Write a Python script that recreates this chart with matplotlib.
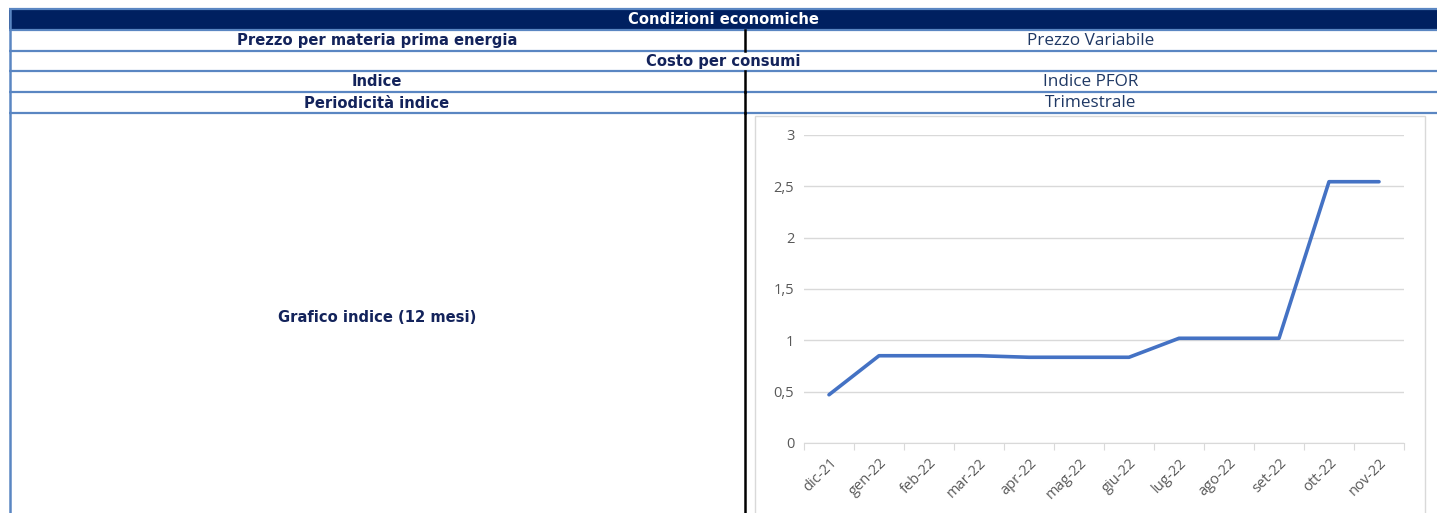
import matplotlib
matplotlib.use("Agg")
import matplotlib.pyplot as plt
from matplotlib.patches import Rectangle

# data
months = ["dic-21", "gen-22", "feb-22", "mar-22", "apr-22", "mag-22",
          "giu-22", "lug-22", "ago-22", "set-22", "ott-22", "nov-22"]
pfor = [0.47, 0.85, 0.85, 0.85, 0.835, 0.835,
        0.835, 1.02, 1.02, 1.02, 2.545, 2.545]
yticks = [0, 0.5, 1, 1.5, 2, 2.5, 3]
ytick_labels = ["0", "0,5", "1", "1,5", "2", "2,5", "3"]

title = "Condizioni economiche"
rows_left = ["Prezzo per materia prima energia", "Costo per consumi", "Indice",
             "Periodicità indice", "Grafico indice (12 mesi)"]
rows_right = ["Prezzo Variabile", None, "Indice PFOR", "Trimestrale", None]

W, H = 1437, 513
NAVY = "#002060"
TXT = "#13235b"
BLUE_BORDER = "#5a86c2"
BOLD_FONT = "DejaVu Sans"
FONT = "Open Sans"

fig = plt.figure(figsize=(W / 100, H / 100), dpi=100)
bg = fig.add_axes([0, 0, 1, 1])
bg.set_xlim(0, W)
bg.set_ylim(H, 0)
bg.axis("off")

x0, xmid, x1 = 9, 745, 1437
row_edges = [9, 30, 51, 71, 92, 113, 520]

# header row
bg.add_patch(Rectangle((x0, row_edges[0]), x1 - x0, row_edges[1] - row_edges[0],
                       facecolor=NAVY, edgecolor="none"))
bg.text((x0 + x1) / 2, (row_edges[0] + row_edges[1]) / 2 + 0.5, title,
        color="white", fontsize=10.6, fontweight="bold", family=BOLD_FONT,
        ha="center", va="center")

# borders
for y in row_edges[:-1]:
    bg.plot([x0, x1], [y, y], color=BLUE_BORDER, lw=1.6, solid_capstyle="butt")
bg.plot([x0 + 1, x0 + 1], [row_edges[0], H], color=BLUE_BORDER, lw=1.8)

for i, (left, right) in enumerate(zip(rows_left, rows_right)):
    ya, yb = row_edges[i + 1], row_edges[i + 2]
    yc = (ya + yb) / 2 if i < 4 else 317
    if right is None and i == 1:
        bg.text((x0 + x1) / 2, yc + 0.5, left, color=TXT, fontsize=10.6,
                fontweight="bold", family=BOLD_FONT, ha="center", va="center")
        continue
    bg.plot([xmid, xmid], [ya, yb], color="black", lw=1.8)
    bg.text((x0 + xmid) / 2, yc + 0.5, left, color=TXT, fontsize=10.6,
            fontweight="bold", family=BOLD_FONT, ha="center", va="center")
    if right is not None:
        bg.text((xmid + x1) / 2, yc + 0.5, right, color="#1f3864", fontsize=12.3,
                family=FONT, ha="center", va="center")

# chart area frame
bg.add_patch(Rectangle((755, 115.5), 670, 420, facecolor="white",
                       edgecolor="#d9d9d9", lw=1.0))

# the chart
ax = fig.add_axes([804 / W, 1 - 443 / H, 600 / W, 308 / H])
ax.set_zorder(2)
ax.patch.set_alpha(0)
xs = [i + 0.5 for i in range(len(months))]
ax.plot(xs, pfor, color="#4472c4", lw=2.6, solid_capstyle="round",
        solid_joinstyle="round", zorder=3)
ax.set_xlim(0, len(months))
ax.set_ylim(0, 3)
ax.set_yticks(yticks)
ax.set_yticklabels(ytick_labels, color="#595959", fontsize=10.5, family=FONT)
ax.yaxis.grid(True, color="#d9d9d9", lw=1)
ax.tick_params(axis="y", length=0, pad=7)
ax.set_xticks(range(len(months) + 1))
ax.set_xticklabels([])
ax.set_xticks(xs, minor=True)
ax.set_xticklabels(months, minor=True, rotation=45, ha="right",
                   rotation_mode="anchor", color="#595959", fontsize=10.5,
                   family=FONT)
ax.tick_params(axis="x", which="major", length=5, color="#d9d9d9", direction="out")
ax.tick_params(axis="x", which="minor", length=0, pad=9)
for side in ["top", "right", "left"]:
    ax.spines[side].set_visible(False)
ax.spines["bottom"].set_color("#d9d9d9")

fig.savefig("out.png", dpi=100)
